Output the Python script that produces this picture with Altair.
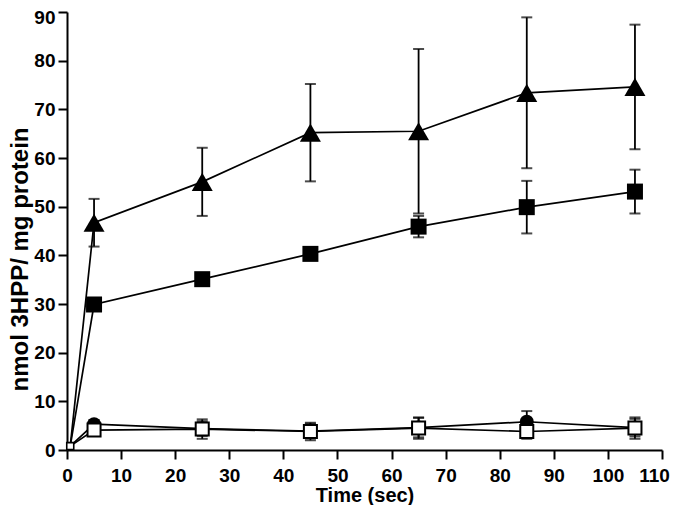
import altair as alt
import pandas as pd

# ---- data ----
times = [0.6, 5, 25, 45, 65, 85, 105]

tri_vals = [0.8, 46.7, 55.1, 65.2, 65.5, 73.4, 74.6]
tri_errs = [0, 4.9, 7.0, 10.0, 16.9, 15.5, 12.8]

sqf_vals = [0.8, 29.9, 35.1, 40.3, 45.9, 49.9, 53.1]
sqf_errs = [0, 1.0, 1.0, 1.0, 2.2, 5.4, 4.5]

cir_vals = [0.8, 5.3, 4.4, 3.9, 4.6, 5.8, 4.6]
cir_errs = [0, 0.8, 1.5, 1.5, 2.0, 2.2, 1.8]

sqo_vals = [0.8, 4.1, 4.3, 3.8, 4.5, 3.8, 4.5]
sqo_errs = [0, 1.2, 2.0, 1.8, 2.2, 1.5, 2.2]

series_names = ["triangle", "square", "circle", "open"]

rows = []
for name, vals, errs in zip(series_names,
                            [tri_vals, sqf_vals, cir_vals, sqo_vals],
                            [tri_errs, sqf_errs, cir_errs, sqo_errs]):
    for t, v, e in zip(times, vals, errs):
        rows.append(dict(series=name, time=t, value=v, lo=v - e, hi=v + e, err=e))
df = pd.DataFrame(rows)

xscale = alt.Scale(domain=[0, 110], nice=False, zero=False, padding=0)
yscale = alt.Scale(domain=[0, 90], nice=False, padding=0)

tick_cond = {"condition": {"test": "datum.value % 10 === 0", "value": 9}, "value": 5}

xaxis = alt.Axis(
    title="Time (sec)",
    values=list(range(0, 111, 5)),
    labelExpr="datum.value % 10 === 0 ? datum.label : ''",
    tickSize=tick_cond,
    labelFlush=False,
    labelOffset={"condition": {"test": "datum.value === 110", "value": -8}, "value": 0},
    labelPadding=7,
    titleFontSize=20,
    titleY=35,
)
yaxis = alt.Axis(
    title="nmol 3HPP/ mg protein",
    values=list(range(0, 91, 5)),
    labelExpr="datum.value % 10 === 0 ? datum.label : ''",
    tickSize=tick_cond,
    labelFlush=False,
    labelOffset={"condition": {"test": "datum.value === 90", "value": 5}, "value": 0},
    labelPadding=3,
    titleFontSize=24,
    titleX=-35,
    titleY=247,
)

base = alt.Chart(df)

layers = []
# connecting lines
for name in series_names:
    layers.append(
        base.transform_filter(alt.datum.series == name)
        .mark_line(color="black", strokeWidth=1.7, clip=True)
        .encode(
            x=alt.X("time:Q", scale=xscale, axis=xaxis),
            y=alt.Y("value:Q", scale=yscale, axis=yaxis),
            order="time:Q",
        )
    )

marker_style = {
    "triangle": dict(shape="triangle-up", filled=True, fill="black", size=441),
    "square": dict(shape="square", filled=True, fill="black", size=256),
    "circle": dict(shape="circle", filled=True, fill="black", size=196),
    "open": dict(shape="square", filled=True, fill="white", stroke="black", strokeWidth=2, size=170),
}

for name in series_names:
    sub = base.transform_filter((alt.datum.series == name) & (alt.datum.err > 0))
    layers.append(
        sub.mark_rule(color="black", strokeWidth=1.8).encode(
            x="time:Q", y="lo:Q", y2="hi:Q"
        )
    )
    layers.append(
        sub.mark_tick(color="black", orient="horizontal", size=11, thickness=2).encode(
            x="time:Q", y="hi:Q"
        )
    )
    layers.append(
        sub.mark_tick(color="black", orient="horizontal", size=11, thickness=2).encode(
            x="time:Q", y="lo:Q"
        )
    )
    st = dict(marker_style[name])
    layers.append(
        base.transform_filter((alt.datum.series == name) & (alt.datum.time > 1))
        .mark_point(opacity=1, **st)
        .encode(x="time:Q", y="value:Q")
    )

# small open square at the origin point
layers.append(
    base.transform_filter((alt.datum.series == "open") & (alt.datum.time < 1))
    .mark_point(shape="square", filled=True, fill="white", stroke="black",
                strokeWidth=1.6, size=49, opacity=1)
    .encode(x="time:Q", y="value:Q")
)

chart = (
    alt.layer(*layers)
    .properties(
        width=595,
        height=438,
        autosize="none",
        padding={"left": 59, "top": 4, "right": 10, "bottom": 55},
        background="white",
    )
    .configure_view(stroke=None)
    .configure_axis(
        grid=False,
        domainColor="black",
        domainWidth=2,
        tickColor="black",
        tickWidth=2,
        labelColor="black",
        titleColor="black",
        labelFont="Liberation Sans",
        titleFont="Liberation Sans",
        labelFontWeight="bold",
        titleFontWeight="bold",
        labelFontSize=19,
        labelOverlap=False,
    )
)

chart.save("out.html", embed_options={"renderer": "svg", "actions": False})
